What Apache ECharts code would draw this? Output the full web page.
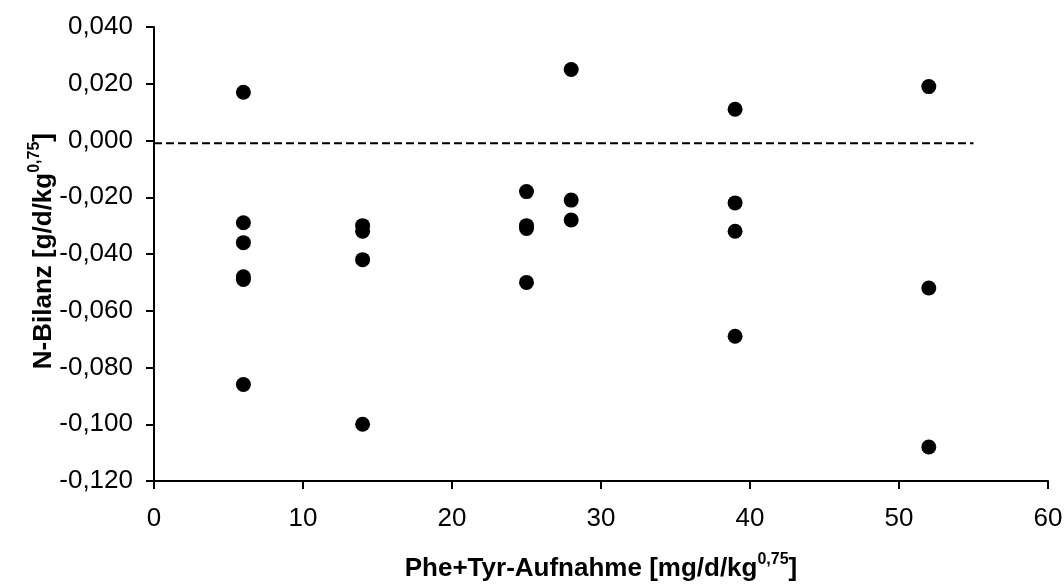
<!DOCTYPE html>
<html>
<head>
<meta charset="utf-8">
<script src="https://cdn.jsdelivr.net/npm/echarts@6/dist/echarts.min.js"></script>
<style>
html,body{margin:0;padding:0;background:#fff;}
#chart{width:1064px;height:585px;}
</style>
</head>
<body>
<div id="chart"></div>
<script>
// Phe+Tyr intake levels [mg/d/kg^0.75]
const intakeLevels = [6, 14, 25, 28, 39, 52];
// N balance [g/d/kg^0.75] observed at each intake level
const nBalance = [
  [0.017, -0.029, -0.036, -0.048, -0.049, -0.086],
  [-0.030, -0.032, -0.042, -0.100],
  [-0.018, -0.030, -0.031, -0.050],
  [0.025, -0.021, -0.028],
  [0.011, -0.022, -0.032, -0.069],
  [0.019, -0.052, -0.108]
];
// dashed reference line
const refLineX = [0, 55];
const refLineY = -0.001;
// axis settings
const xAxisRange = [0, 60, 10];
const yAxisRange = [-0.12, 0.04, 0.02];
const xTitle = ['Phe+Tyr-Aufnahme [mg/d/kg', '0,75', ']'];
const yTitle = ['N-Bilanz [g/d/kg', '0,75', ']'];

const points = [];
intakeLevels.forEach((x, i) => nBalance[i].forEach(y => points.push([x, y])));
const refLine = refLineX.map(x => [x, refLineY]);

const FONT = 'Liberation Sans, Arial, Helvetica, sans-serif';
const richTitle = {
  b: {fontSize: 26, fontWeight: 'bold', fontFamily: FONT, color: '#000', lineHeight: 30, verticalAlign: 'bottom'},
  s: {fontSize: 16, fontWeight: 'bold', fontFamily: FONT, color: '#000', lineHeight: 30, verticalAlign: 'top'}
};
function titleText(t) { return '{b|' + t[0] + '}{s|' + t[1] + '}{b|' + t[2] + '}'; }

const chart = echarts.init(document.getElementById('chart'), null, {renderer: 'canvas'});
chart.setOption({
  animation: false,
  backgroundColor: '#fff',
  grid: {left: 154, right: 16, top: 27, bottom: 104, containLabel: false, outerBoundsMode: 'none'},
  xAxis: {
    type: 'value',
    min: xAxisRange[0], max: xAxisRange[1], interval: xAxisRange[2],
    name: titleText(xTitle),
    nameLocation: 'middle',
    nameGap: 71,
    nameTextStyle: {rich: richTitle},
    axisLine: {onZero: false, lineStyle: {color: '#000', width: 2}},
    axisTick: {show: true, inside: false, length: 8, lineStyle: {color: '#000', width: 2}},
    axisLabel: {color: '#000', fontSize: 26, fontFamily: FONT, margin: 25},
    splitLine: {show: false}
  },
  yAxis: {
    type: 'value',
    min: yAxisRange[0], max: yAxisRange[1], interval: yAxisRange[2],
    axisLine: {onZero: false, lineStyle: {color: '#000', width: 2}},
    axisTick: {show: true, inside: false, length: 8, lineStyle: {color: '#000', width: 2}},
    axisLabel: {
      color: '#000', fontSize: 26, fontFamily: FONT, margin: 21,
      formatter: v => (Math.abs(v) < 1e-9 ? 0 : v).toFixed(3).replace('.', ',')
    },
    splitLine: {show: false}
  },
  graphic: [{
    type: 'text',
    left: 27,
    top: 133,
    rotation: Math.PI / 2,
    style: {
      text: titleText(yTitle),
      rich: richTitle
    }
  }],
  series: [
    {
      type: 'line',
      data: refLine,
      symbol: 'none',
      lineStyle: {color: '#000', width: 2, type: [8, 4]},
      z: 1
    },
    {
      type: 'scatter',
      data: points,
      symbol: 'circle',
      symbolSize: 15,
      itemStyle: {color: '#000', opacity: 1},
      z: 2
    }
  ]
});
</script>
</body>
</html>
